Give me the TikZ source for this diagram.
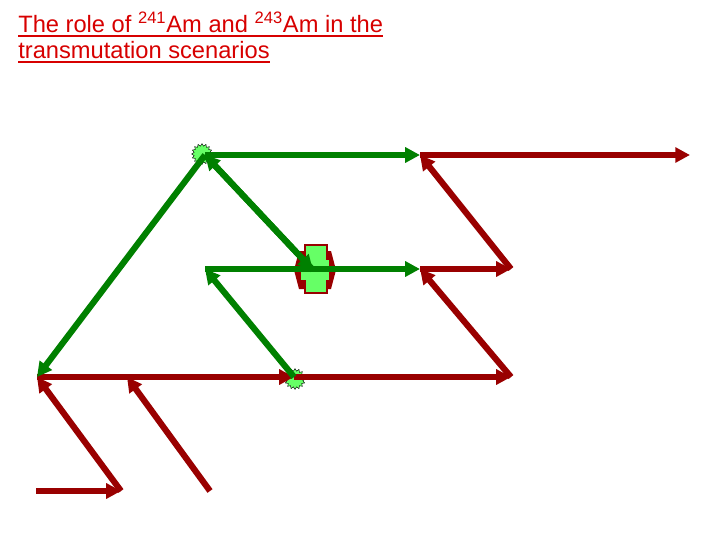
\documentclass[tikz,border=0pt]{standalone}
\usepackage{fontspec}
\setmainfont{Liberation Sans}
\usepackage{xcolor}
\usetikzlibrary{arrows.meta,shapes.geometric}
\definecolor{fuel}{RGB}{0,128,0}
\definecolor{decay}{RGB}{153,0,0}
\definecolor{burst}{RGB}{102,255,102}
\definecolor{heading}{RGB}{215,0,0}

\begin{document}
\begin{tikzpicture}[x=0.025cm,y=-0.025cm,
	chain/.style={line width=4.4pt,-{Triangle[length=10.5pt,width=10.5pt]}},
	burstnode/.style={star,star points=16,star point ratio=1.3,minimum size=0.52cm,inner sep=0pt,fill=burst,draw=black,line width=0.3pt},
	headline/.style={anchor=base west,inner sep=0pt,text=heading,font=\fontsize{16.84}{18.5}\selectfont},
	rule/.style={heading,line width=1.3pt}]
					\useasboundingbox (0,0) rectangle (720,540);
					\coordinate (t1) at (205,155);
					\coordinate (t2) at (420,155);
					\coordinate (t3) at (690,155);
					\coordinate (m1) at (205,269);
					\coordinate (m2) at (420,269);
					\coordinate (m3) at (511,269);
					\coordinate (x) at (313,270);
					\coordinate (b1) at (37,377);
					\coordinate (b2) at (127,377);
					\coordinate (b3) at (294,377);
					\coordinate (b4) at (511,377);
					\coordinate (l1) at (36,491);
					\coordinate (l2) at (121,491);
					\coordinate (l3) at (210,491);
					
					\node (head1) at (18,32.5) [headline] {The role of \textsuperscript{241}Am and \textsuperscript{243}Am in the};
					\node (head2) at (18,58.5) [headline] {transmutation scenarios};
					\draw[rule] ([yshift=-2.2pt]head1.base west) -- ([yshift=-2.2pt]head1.base east);
					\draw[rule] ([yshift=-2.2pt]head2.base west) -- ([yshift=-2.2pt]head2.base east);
					
					% capture cross
					\fill[decay] (294,270) -- (299,251) -- (331,251) -- (336,270) -- (331,289) -- (299,289) -- cycle;
					\draw[decay,fill=burst,line width=1.4pt] (305,245) -- (327,245) -- (327,259) -- (330,259) -- (330,281) -- (327,281) -- (327,293) -- (305,293) -- (305,281) -- (300,281) -- (300,259) -- (305,259) -- cycle;
					\node (s1) at (202,154) [burstnode] {};
					\node (s2) at (295,379) [burstnode] {};
					
					\draw[decay,chain] (t2) to[] (t3);
					\draw[decay,chain] (m3) to[] (t2);
					\draw[decay,chain] (m2) to[] (m3);
					\draw[decay,chain] (b4) to[] (m2);
					\draw[decay,chain] (b1) to[] (b3);
					\draw[decay,chain] (b3) to[] (b4);
					\draw[decay,chain] (l2) to[] (b1);
					\draw[decay,chain] (l1) to[] (l2);
					\draw[decay,chain] (l3) to[] (b2);
					
					\draw[fuel,chain] (t1) to[] (t2);
					\draw[fuel,chain] (t1) to[] (x);
					\draw[fuel,chain] (x) to[] (t1);
					\draw[fuel,chain] (m1) to[] (m2);
					\draw[fuel,chain] (b3) to[] (m1);
					\draw[fuel,chain] (t1) to[] (b1);
				\end{tikzpicture}
\end{document}
